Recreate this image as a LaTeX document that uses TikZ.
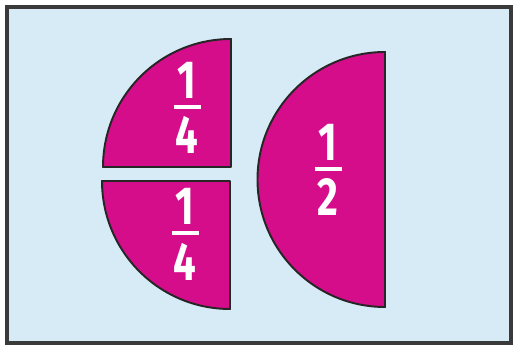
\documentclass[tikz,border=0pt]{standalone}
\usepackage{fontspec}
\usepackage{graphicx}
\setmainfont{Fira Sans}
\usepackage{tikz}
\definecolor{paper}{HTML}{D6EBF6}
\definecolor{piece}{HTML}{D50D8B}
\definecolor{frame}{HTML}{3A3A3A}
\newcommand{\numtxt}[1]{\scalebox{0.75}[1]{#1}}
\newcommand{\pfrac}[2]{\shortstack{\numtxt{#1}\\[0.7pt]\rule{0.54cm}{0.08cm}\\[1.6pt]\numtxt{#2}}}

\begin{document}
\begin{tikzpicture}[x=0.02cm, y=0.02cm,
  part/.style={draw=black!85, line width=1.1pt, fill=piece, line join=round},
  lbl/.style={text=white, inner sep=0pt, font=\fontsize{30.5}{30.5}\selectfont\bfseries}
]
  \useasboundingbox (0,0) rectangle (513,347);
  \fill[white] (0,0) rectangle (513,347);
  \draw[frame, fill=paper, line width=1.8pt] (7,4) rectangle (511,340);

  % quarters
  \draw[part] (231,180) -- (103,180) arc (180:90:128) -- cycle;
  \draw[part] (230,166) -- (230,38) arc (270:180:128) -- cycle;
  % half
  \draw[part] (385,295) arc (90:270:127.5) -- cycle;

  \node[lbl] (qtop) at (187,239) {\pfrac{1}{4}};
  \node[lbl] (qbot) at (185,112.5) {\pfrac{1}{4}};
  \node[lbl] (half) at (328,177) {\pfrac{1}{2}};
\end{tikzpicture}
\end{document}
